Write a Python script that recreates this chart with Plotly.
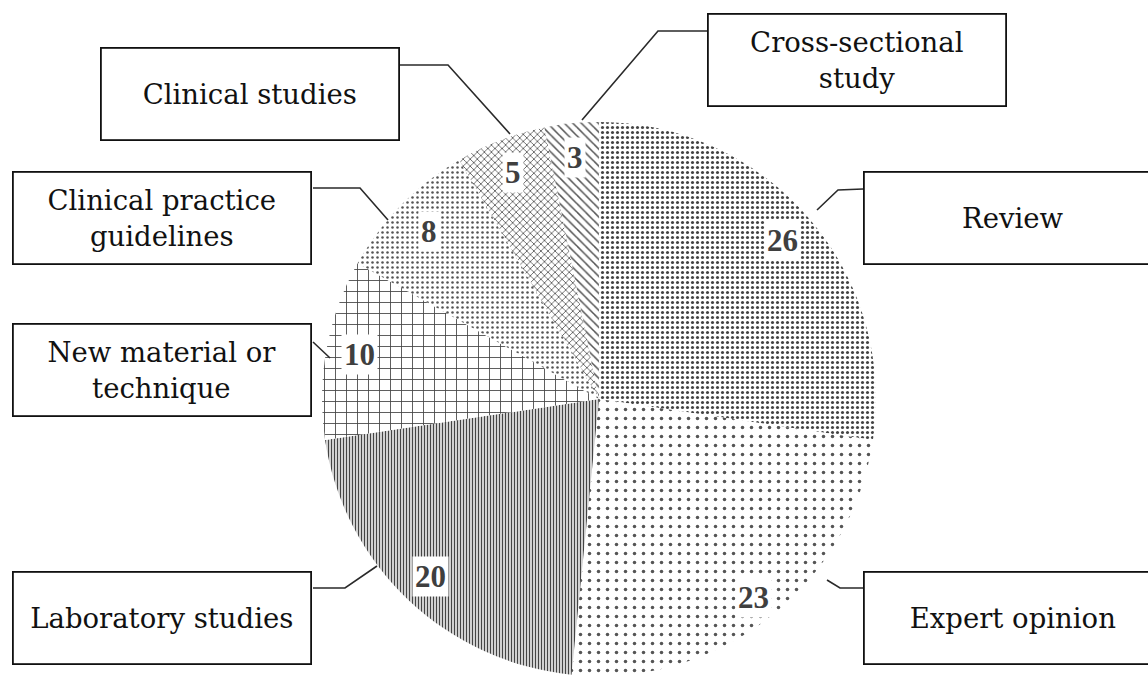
import math
import plotly.graph_objects as go

# ---- data ----
categories = ["Review", "Expert opinion", "Laboratory studies", "New material or technique",
              "Clinical practice guidelines", "Clinical studies", "Cross-sectional study"]
box_labels = ["Review", "Expert opinion", "Laboratory studies", "New material or<br>technique",
              "Clinical practice<br>guidelines", "Clinical studies", "Cross-sectional<br>study"]
counts = [26, 23, 20, 10, 8, 5, 3]

# ---- style / layout ----
W, H = 1148, 678
CX, CY, R = 599, 399, 277
shapes_pat = [".", ".", "|", "+", ".", "x", "\\"]
pat_size = [5, 9, 3, 11, 5, 5, 6]
pat_sol = [0.3, 0.12, 0.5, 0.15, 0.2, 0.3, 0.25]
pat_fg = ["#444444", "#555555", "#444444", "#444444", "#555555", "#555555", "#555555"]
label_rfrac = [0.875, 0.91, 0.885, 0.88, 0.86, 0.875, 0.875]

# box centres (pixel) and leader paths (pixel)
box_pos = [(1013, 217.5), (1013, 617.5), (162, 617.5), (162, 370),
           (162, 217.5), (250, 93.5), (857, 60)]
leaders = [
    [(863, 189), (838, 190), (817, 210)],
    [(863, 588), (840, 588), (827, 580)],
    [(313, 588), (345, 588), (377, 566)],
    [(313, 342), (330, 358)],
    [(313, 188), (360, 188), (388, 220)],
    [(399, 65), (448, 65), (510, 134)],
    [(707, 31), (658, 31), (582, 120)],
]

fig = go.Figure()
fig.add_trace(go.Pie(
    labels=categories, values=counts, sort=False, direction="clockwise", rotation=0,
    textinfo="none", hoverinfo="label+value", showlegend=False,
    domain=dict(x=[(CX - R) / W, (CX + R) / W], y=[(H - CY - R) / H, (H - CY + R) / H]),
    marker=dict(colors=["white"] * len(counts), line=dict(width=0),
                pattern=dict(shape=shapes_pat, size=pat_size, solidity=pat_sol,
                             fgcolor=pat_fg, fillmode="replace")),
))

# hidden pixel axes for annotations/shapes
fig.update_layout(
    width=W, height=H, margin=dict(l=0, r=0, t=0, b=0),
    paper_bgcolor="white", plot_bgcolor="rgba(0,0,0,0)",
    xaxis=dict(range=[0, W], visible=False, fixedrange=True),
    yaxis=dict(range=[H, 0], visible=False, fixedrange=True),
)

annotations = []
total = sum(counts)
cum = 0
for i, v in enumerate(counts):
    mid = (cum + v / 2) / total * 2 * math.pi
    cum += v
    r = label_rfrac[i] * R
    annotations.append(dict(
        x=CX + r * math.sin(mid), y=CY - r * math.cos(mid), xref="x", yref="y",
        text="<b>%d</b>" % v, showarrow=False, bgcolor="white", borderpad=2,
        font=dict(family="Liberation Serif", size=31, color="#3f3f3f")))

for i, (bx, by) in enumerate(box_pos):
    annotations.append(dict(
        x=bx, y=by, xref="x", yref="y", text=box_labels[i], showarrow=False,
        width=296, height=90, bgcolor="white", bordercolor="#111111", borderwidth=1.8,
        borderpad=0, align="center", valign="middle",
        font=dict(family="DejaVu Serif", size=27.5, color="#111111")))

shapes = []
for pts in leaders:
    path = "M %s,%s " % pts[0] + " ".join("L %s,%s" % p for p in pts[1:])
    shapes.append(dict(type="path", path=path, xref="x", yref="y",
                       line=dict(color="#2a2a2a", width=1.6)))

fig.update_layout(annotations=annotations, shapes=shapes)
fig.write_html("out.html", config={"displayModeBar": False},
               post_script="document.body.style.margin='0';")
